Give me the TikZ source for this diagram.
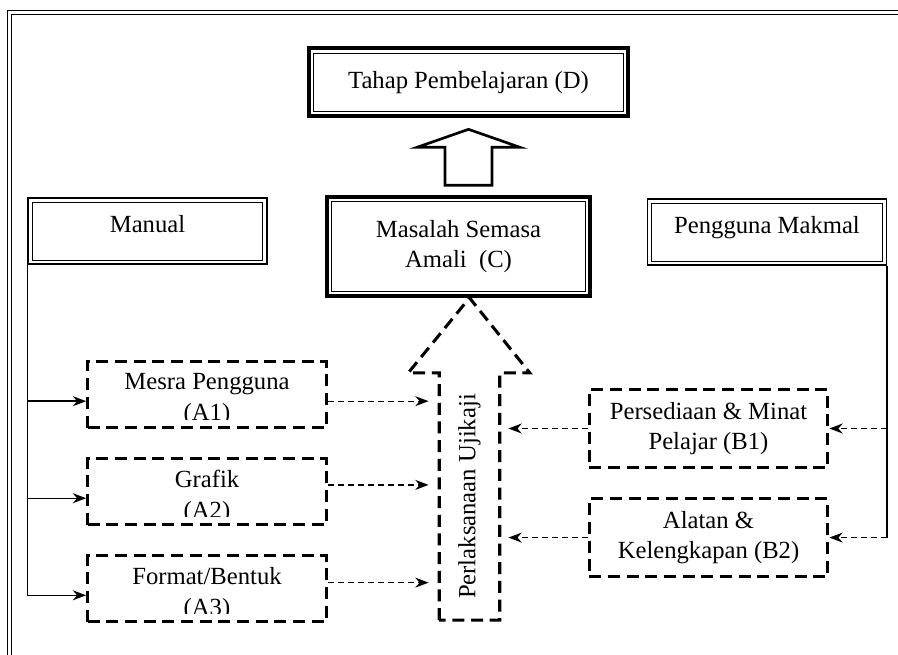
\documentclass[tikz,border=0pt]{standalone}
\usepackage{fontspec}
\setmainfont{Liberation Serif}
\usetikzlibrary{
    arrows.meta,
    calc,
    positioning
}

\begin{document}
\begin{tikzpicture}[
    x=0.75pt,
    y=-0.75pt,
    node distance=21pt,
    font=\fontsize{18.5}{23}\selectfont,
    frame/.style={
        double,
        double distance=2.5pt,
        line width=0.8pt
    },
    heavybox/.style={
        draw,
        line width=3pt,
        align=center,
        inner sep=0pt,
        path picture={
            \draw[line width=0.7pt]
                ([shift={(3.5pt,-3.5pt)}]path picture bounding box.north west)
                rectangle
                ([shift={(-3.5pt,3.5pt)}]path picture bounding box.south east);
        }
    },
    sourcebox/.style={
        draw,
        line width=1.1pt,
        minimum width=179pt,
        minimum height=49.5pt,
        text depth=11pt,
        inner sep=0pt,
        path picture={
            \draw[line width=0.7pt]
                ([shift={(3pt,-3pt)}]path picture bounding box.north west)
                rectangle
                ([shift={(-3pt,3pt)}]path picture bounding box.south east);
        }
    },
    factorbox/.style={
        draw,
        line width=2.3pt,
        dash pattern=on 9pt off 5pt,
        minimum width=179pt,
        align=center,
        inner sep=0pt
    },
    cutbox/.style={
        factorbox,
        minimum height=49.5pt,
        path picture={
            \clip (path picture bounding box.north west)
                rectangle ([yshift=6pt]path picture bounding box.south east);
            \node[align=center, anchor=center, yshift=-4pt]
                at (path picture bounding box.center) {#1};
        }
    },
    factorline/.style={
        line width=2.3pt,
        dash pattern=on 9pt off 5pt
    },
    blockarrow/.style={
        draw,
        line width=2pt,
        line join=miter
    },
    link/.style={
        -{Stealth[length=10pt, width=7.5pt]},
        line width=1.1pt
    },
    feed/.style={
        -{Stealth[length=10pt, width=7.5pt]},
        line width=1pt,
        dash pattern=on 4.5pt off 3pt
    }
]

\useasboundingbox (0,0) rectangle (898,655);

\draw[frame] (898,12.5) -- (9.5,12.5) -- (9.5,655);

\node[heavybox, minimum width=239pt, minimum height=51pt] (D)
    at (468.5,82.5) {Tahap Pembelajaran (D)};

\node[heavybox, minimum width=197pt, minimum height=74pt] (C)
    at (458.5,246.5) {Masalah Semasa\\Amali\ \ (C)};

\node[sourcebox] (manual) at (147.5,231) {Manual};

\node[sourcebox] (pengguna) at (767,232) {Pengguna Makmal};

\node[cutbox={Mesra Pengguna\\(A1)}] (A1) at (207,394.5) {};
\node[cutbox={Grafik\\(A2)}, below=of A1] (A2) {};
\node[cutbox={Format/Bentuk\\(A3)}, below=of A2] (A3) {};

\node[factorbox, minimum height=58.5pt] (B1)
    at (708.5,428.5) {Persediaan \& Minat\\Pelajar (B1)};
\node[factorbox, minimum height=58.5pt, below=of B1] (B2)
    {Alatan \&\\Kelengkapan (B2)};

\node[minimum width=45pt, minimum height=185pt, inner sep=0pt] (uj)
    at (469.5,496.5) {\rotatebox{90}{Perlaksanaan Ujikaji}};

\coordinate (mid) at ($(D.south)!.5!(D.south |- C.north)$);
\draw[blockarrow] (mid) ++(-23.5,28.5) -- ++(0,-38) -- ++(-28,0)
    -- ++(51.5,-18) -- ++(51.5,18) -- ++(-28,0) -- ++(0,38) -- cycle;

\draw[factorline] (uj.south west) -- (uj.north west) -- ++(-31,0)
    -- (uj.north |- C.south) -- ([xshift=22.5pt]uj.north east)
    -- (uj.north east) -- (uj.south east) -- cycle;

\coordinate (a1in) at ([yshift=-5pt]A1.west);
\coordinate (a2in) at ([yshift=-5pt]A2.west);
\coordinate (a3in) at ([yshift=-5pt]A3.west);
\coordinate (a1out) at ([yshift=-5pt]A1.east);
\coordinate (a2out) at ([yshift=5pt]A2.east);
\coordinate (a3out) at ([yshift=4.5pt]A3.east);

\draw[link] (manual.south west) |- (a3in);
\draw[link] (manual.south west |- a1in) -- (a1in);
\draw[link] (manual.south west |- a2in) -- (a2in);

\draw[feed, shorten >=8pt] (a1out) -- (a1out -| uj.west);
\draw[feed, shorten >=8pt] (a2out) -- (a2out -| uj.west);
\draw[feed, shorten >=8pt] (a3out) -- (a3out -| uj.west);

\draw[line width=1.1pt] (pengguna.south east) -- (pengguna.south east |- B2.east);
\draw[feed] (pengguna.south east |- B1.east) -- (B1.east);
\draw[feed] (pengguna.south east |- B2.east) -- (B2.east);

\draw[feed, shorten >=6.5pt] (B1.west) -- (B1.west -| uj.east);
\draw[feed, shorten >=6.5pt] (B2.west) -- (B2.west -| uj.east);

\end{tikzpicture}
\end{document}
